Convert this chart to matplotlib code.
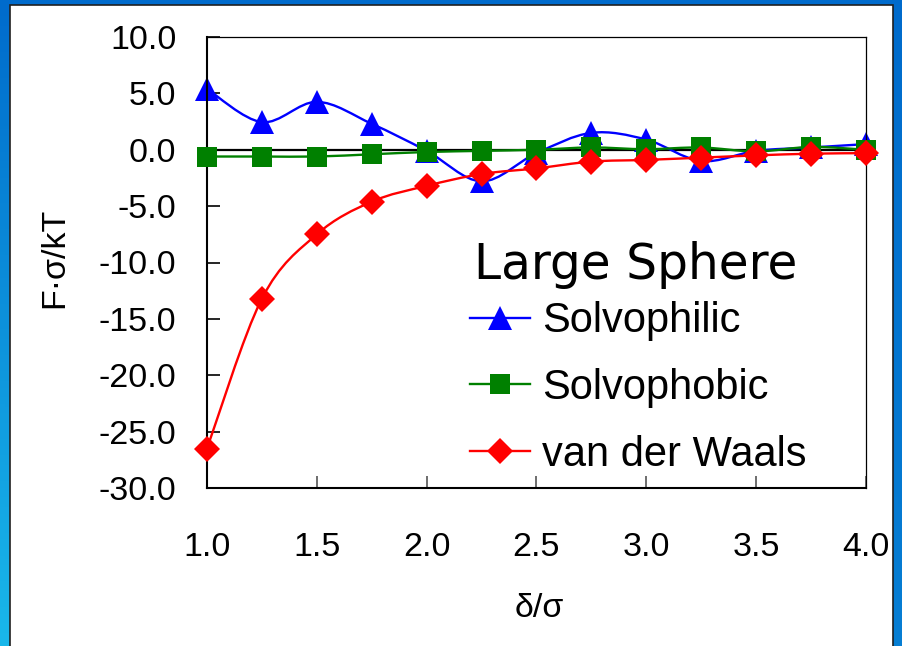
import numpy as np
import matplotlib
matplotlib.use("Agg")
import matplotlib.pyplot as plt
from matplotlib.path import Path
from matplotlib.patches import PathPatch, Rectangle
from matplotlib.lines import Line2D

plt.rcParams["font.family"] = ["Liberation Sans", "DejaVu Sans"]

# separation in units of sigma
delta = [1.0, 1.25, 1.5, 1.75, 2.0, 2.25, 2.5, 2.75, 3.0, 3.25, 3.5, 3.75, 4.0]
# force F*sigma/kT for each surface type
solvophilic = [5.4, 2.45, 4.25, 2.3, -0.1, -2.8, -0.3, 1.5, 0.9, -1.0, -0.1, 0.2, 0.5]
solvophobic = [-0.6, -0.6, -0.6, -0.4, -0.2, -0.1, 0.0, 0.2, 0.05, 0.2, -0.15, 0.25, 0.0]
van_der_waals = [-26.5, -13.2, -7.5, -4.6, -3.2, -2.15, -1.65, -1.05, -0.9, -0.7, -0.5, -0.35, -0.3]

series_names = ["Solvophilic", "Solvophobic", "van der Waals"]
legend_title = "Large Sphere"

x_ticks = [1.0, 1.5, 2.0, 2.5, 3.0, 3.5, 4.0]
x_tick_labels = ["1.0", "1.5", "2.0", "2.5", "3.0", "3.5", "4.0"]
y_ticks = [10, 5, 0, -5, -10, -15, -20, -25, -30]
y_tick_labels = ["10.0", "5.0", "0.0", "-5.0", "-10.0", "-15.0", "-20.0", "-25.0", "-30.0"]


def smooth_path(xs, ys):
    """Cubic Bezier path through the points (Catmull-Rom style tangents)."""
    pts = np.column_stack([xs, ys]).astype(float)
    n = len(pts)
    verts = [pts[0]]
    codes = [Path.MOVETO]
    for i in range(n - 1):
        p0 = pts[max(i - 1, 0)]
        p1 = pts[i]
        p2 = pts[i + 1]
        p3 = pts[min(i + 2, n - 1)]
        c1 = p1 + (p2 - p0) / 6.0
        c2 = p2 - (p3 - p1) / 6.0
        verts += [c1, c2, p2]
        codes += [Path.CURVE4] * 3
    return Path(np.array(verts), codes)


fig = plt.figure(figsize=(9.03, 6.46), dpi=100)

# slide background: blue gradient with a white panel
bg = fig.add_axes([0, 0, 1, 1], zorder=-10)
gy, gx = np.mgrid[0:1:200j, 0:1:200j]
t = np.clip(gy * (1 - 0.75 * gx), 0, 1)
top = np.array([0.0, 0.42, 0.80])
bottom = np.array([0.10, 0.72, 0.92])
grad = top[None, None, :] * (1 - t[..., None]) + bottom[None, None, :] * t[..., None]
bg.imshow(grad, extent=[0, 1, 0, 1], aspect="auto", origin="upper")
bg.add_patch(Rectangle((10 / 903, -0.02), 883 / 903, 0.02 + 641 / 646,
                       transform=bg.transAxes, facecolor="white",
                       edgecolor="#202020", linewidth=1.2))
bg.set_xlim(0, 1)
bg.set_ylim(0, 1)
bg.axis("off")

ax = fig.add_axes([207 / 903, 1 - 488 / 646, 659 / 903, 451 / 646])
ax.set_xlim(1.0, 4.0)
ax.set_ylim(-30, 10)
ax.set_facecolor("white")

ax.axhline(0, color="black", linewidth=1.6, zorder=1)

styles = [
    (solvophilic, "#0000FF", "^", 17, 2),
    (solvophobic, "#008000", "s", 15, 3),
    (van_der_waals, "#FF0000", "D", 13.5, 4),
]
handles = []
for (vals, color, marker, ms, z), name in zip(styles, series_names):
    ax.add_patch(PathPatch(smooth_path(delta, vals), fill=False, edgecolor=color,
                           linewidth=1.7, transform=ax.transData, zorder=z))
    ax.plot(delta, vals, linestyle="none", marker=marker, markersize=ms,
            color=color, markeredgewidth=0, zorder=z + 0.5, clip_on=False)
    handles.append(Line2D([], [], color=color, linewidth=1.7, marker=marker,
                          markersize=ms, markeredgewidth=0, label=name))

for side in ["left", "bottom"]:
    ax.spines[side].set_linewidth(1.5)
for side in ["top", "right"]:
    ax.spines[side].set_linewidth(0.9)
for s in ax.spines.values():
    s.set_color("black")

ax.set_xticks(x_ticks)
ax.set_xticklabels(x_tick_labels)
ax.set_yticks(y_ticks)
ax.set_yticklabels(y_tick_labels)
ax.tick_params(axis="both", direction="in", labelsize=24.5)
ax.tick_params(axis="x", length=9, width=1.2, color="#555555", pad=32)
ax.tick_params(axis="y", length=9, width=1.2, color="black", pad=22)

ax.set_xlabel("δ/σ", fontsize=24.5, va="center")
ax.xaxis.set_label_coords(0.505, -0.268)
ax.set_ylabel("F·σ/kT", fontsize=24.5, va="center")
ax.yaxis.set_label_coords(-0.231, 0.51)

# legend heading drawn as its own text, entries below it
ax.text(0.651, 0.494, legend_title, transform=ax.transAxes, ha="center",
        va="center", fontsize=35, family="DejaVu Sans", zorder=6)
leg = ax.legend(handles=handles, loc="upper left",
                bbox_to_anchor=(0.399, 0.414), frameon=False,
                prop={"size": 30},
                handlelength=1.45, handletextpad=0.27, labelspacing=0.64,
                borderpad=0, borderaxespad=0)

fig.savefig("out.png", dpi=100)
